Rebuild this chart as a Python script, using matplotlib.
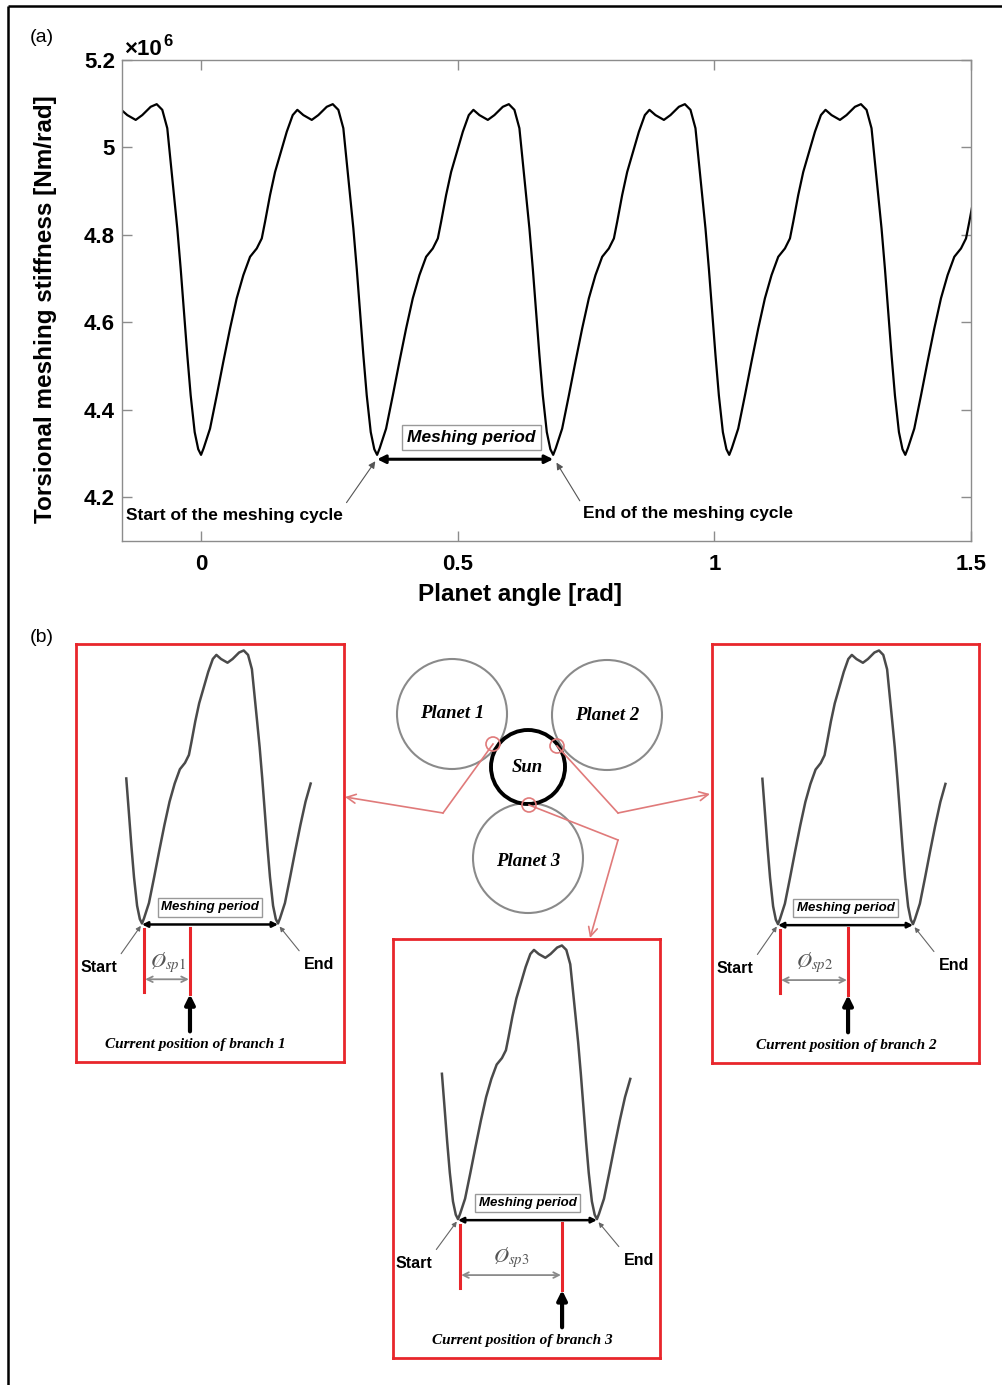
import numpy as np
import matplotlib
matplotlib.use('Agg')
import matplotlib.pyplot as plt
from matplotlib.patches import Circle

plt.rcParams['font.family'] = ['Liberation Sans', 'DejaVu Sans']
plt.rcParams['mathtext.fontset'] = 'stix'

"""
data read off the figure
"""

# one meshing cycle: offset from the stiffness minimum [rad] and stiffness [x1e6 Nm/rad]
cycle_offset = [0.0000, 0.0050, 0.0175, 0.0306, 0.0434, 0.0565, 0.0695, 0.0824, 0.0955, 0.1085,
                0.1183, 0.1247, 0.1344, 0.1442, 0.1539, 0.1670, 0.1786, 0.1876, 0.1993, 0.2157,
                0.2285, 0.2449, 0.2566, 0.2675, 0.2772, 0.2838, 0.2903, 0.2967, 0.3033, 0.3098,
                0.3162, 0.3228, 0.3306, 0.3375]
cycle_stiff = [4.297, 4.312, 4.357, 4.433, 4.510, 4.586, 4.655, 4.708, 4.750, 4.769,
               4.792, 4.830, 4.891, 4.944, 4.983, 5.036, 5.074, 5.086, 5.074, 5.063,
               5.074, 5.093, 5.099, 5.086, 5.044, 4.967, 4.891, 4.815, 4.723, 4.624,
               4.525, 4.433, 4.349, 4.310]

# planet angle at each stiffness minimum (start of a meshing cycle)
cycle_start = [-0.343, 0.0, 0.343, 0.686, 1.029, 1.372]

xticks = [0, 0.5, 1, 1.5]
xtick_labels = ['0', '0.5', '1', '1.5']
yticks = [4.2, 4.4, 4.6, 4.8, 5.0, 5.2]
ytick_labels = ['4.2', '4.4', '4.6', '4.8', '5', '5.2']

# current angle of each branch inside its meshing cycle [rad]
branch_names = ['1', '2', '3']
branch_phase = [0.121, 0.178, 0.257]
branch_text_x = [0.134, 0.173, 0.160]

planet_names = ['Planet 1', 'Planet 2', 'Planet 3']

angle = np.concatenate([s + np.array(cycle_offset) for s in cycle_start])
stiff = np.tile(cycle_stiff, len(cycle_start))

red = '#e8262b'
pink = '#e07a7a'

"""
figure
"""

W, H = 1002, 1385
fig = plt.figure(figsize=(W / 100, H / 100), dpi=100)
fig.patch.set_facecolor('white')


def frac(x0, y0, x1, y1):
    # pixel box (top-left origin) -> figure fraction rect
    return [x0 / W, 1 - y1 / H, (x1 - x0) / W, (y1 - y0) / H]


# ---------------- panel (a) ----------------
ax = fig.add_axes(frac(122, 60, 971, 541))
ax.plot(angle, stiff, color='black', lw=1.6)
ax.set_xlim(-0.154, 1.5)
ax.set_ylim(4.1, 5.2)
ax.set_xticks(xticks)
ax.set_xticklabels(xtick_labels, fontsize=16, fontweight='bold')
ax.set_yticks(yticks)
ax.set_yticklabels(ytick_labels, fontsize=16, fontweight='bold')
ax.tick_params(direction='in', top=True, right=True, length=7, width=1, color='#8c8c8c')
ax.tick_params(axis='x', pad=9)
ax.tick_params(axis='y', pad=5)
for s in ax.spines.values():
    s.set_color('#8c8c8c')
    s.set_linewidth(1)

ax.set_ylabel('Torsional meshing stiffness [Nm/rad]', fontsize=17.5, fontweight='bold', va='center')
ax.yaxis.set_label_coords(-0.0905, 0.482)
ax.set_xlabel('Planet angle [rad]', fontsize=17.5, fontweight='bold')
ax.xaxis.set_label_coords(0.469, -0.087)

ax.text(0.003, 1.0104, '\u00d710', transform=ax.transAxes, fontsize=16, fontweight='bold', va='baseline')
ax.text(0.049, 1.029, '6', transform=ax.transAxes, fontsize=12, fontweight='bold', va='baseline')

ax.annotate('', xy=(cycle_start[2], 4.287), xytext=(cycle_start[3], 4.287),
            arrowprops=dict(arrowstyle='<|-|>', color='black', lw=2.2, shrinkA=0, shrinkB=0, mutation_scale=12))
ax.text(0.526, 4.337, 'Meshing period', ha='center', va='center', fontsize=12.5,
        fontweight='bold', fontstyle='italic',
        bbox=dict(boxstyle='square,pad=0.3', fc='white', ec='#999999', lw=1))
ax.annotate('Start of the meshing cycle', xy=(cycle_start[2] - 0.002, 4.285), xytext=(-0.146, 4.159),
            ha='left', va='center', fontsize=12.5, fontweight='bold',
            arrowprops=dict(arrowstyle='-|>', color='#555555', lw=0.8, mutation_scale=10,
                            relpos=(1.0, 1.0), shrinkA=2, shrinkB=1))
ax.annotate('End of the meshing cycle', xy=(cycle_start[3] + 0.005, 4.282), xytext=(0.744, 4.163),
            ha='left', va='center', fontsize=12.5, fontweight='bold',
            arrowprops=dict(arrowstyle='-|>', color='#555555', lw=0.8, mutation_scale=10,
                            relpos=(0.0, 1.0), shrinkA=2, shrinkB=1))

fig.text(42 / W, 1 - 38 / H, '(a)', ha='center', va='center', fontsize=14)
fig.text(42 / W, 1 - 637 / H, '(b)', ha='center', va='center', fontsize=14)

# ---------------- panel (b): one box per branch ----------------
box_px = [(76, 644, 344, 1062), (712, 644, 979, 1063), (393, 939, 660, 1358)]
box_xlim = [(-0.1665, 0.5095), (-0.1677, 0.5107), (-0.1605, 0.4988)]
mini = (angle >= -0.04) & (angle <= 0.436)

for i in range(3):
    bx = fig.add_axes(frac(*box_px[i]))
    bx.set_xlim(*box_xlim[i])
    bx.set_ylim(3.89, 5.118)
    bx.set_xticks([])
    bx.set_yticks([])
    for s in bx.spines.values():
        s.set_color(red)
        s.set_linewidth(2)

    bx.plot(angle[mini], stiff[mini], color='#4a4a4a', lw=1.8)

    p0 = cycle_start[1]
    p1 = cycle_start[2]
    ph = branch_phase[i]

    bx.annotate('', xy=(p0, 4.294), xytext=(p1, 4.294),
                arrowprops=dict(arrowstyle='<|-|>', color='black', lw=1.8, shrinkA=0, shrinkB=0, mutation_scale=8))
    bx.text((p0 + p1) / 2, 4.344, 'Meshing period', ha='center', va='center', fontsize=9.5,
            fontweight='bold', fontstyle='italic',
            bbox=dict(boxstyle='square,pad=0.25', fc='white', ec='#999999', lw=1))

    # red markers: cycle start and current branch position
    bx.plot([p0 + 0.005, p0 + 0.005], [4.095, 4.28], color=red, lw=2.2)
    bx.plot([ph, ph], [4.089, 4.285], color=red, lw=2.2)
    bx.annotate('', xy=(p0 + 0.008, 4.133), xytext=(ph - 0.003, 4.133),
                arrowprops=dict(arrowstyle='<->', color='#8a8a8a', lw=1.3, shrinkA=0, shrinkB=0, mutation_scale=10))
    bx.text((p0 + ph) / 2 + 0.004, 4.183, r'$\O_{sp%s}$' % branch_names[i], ha='center', va='center',
            fontsize=15, color='#555555')

    bx.annotate('', xy=(ph, 4.089), xytext=(ph, 3.98),
                arrowprops=dict(arrowstyle='-|>', color='black', lw=3, shrinkA=0, shrinkB=0, mutation_scale=14))
    bx.text(branch_text_x[i], 3.94, 'Current position of branch ' + branch_names[i], ha='center', va='center',
            fontsize=11, fontweight='bold', fontstyle='italic', family=['Liberation Serif', 'DejaVu Serif'])

    bx.annotate('Start', xy=(p0 - 0.003, 4.29), xytext=(-0.11, 4.168), ha='center', va='center',
                fontsize=11.5, fontweight='bold',
                arrowprops=dict(arrowstyle='-|>', color='#666666', lw=0.8, mutation_scale=7,
                                relpos=(1.0, 1.0), shrinkA=3, shrinkB=0))
    bx.annotate('End', xy=(p1 + 0.004, 4.288), xytext=(0.447, 4.177), ha='center', va='center',
                fontsize=11.5, fontweight='bold',
                arrowprops=dict(arrowstyle='-|>', color='#666666', lw=0.8, mutation_scale=7,
                                relpos=(0.0, 1.0), shrinkA=3, shrinkB=0))

# ---------------- gear sketch + frame (pixel coordinates) ----------------
ov = fig.add_axes([0, 0, 1, 1])
ov.set_xlim(0, W)
ov.set_ylim(H, 0)
ov.axis('off')
ov.patch.set_alpha(0)

ov.plot([8, 8], [6, H], color='black', lw=1.8, solid_capstyle='butt')
ov.plot([8, W], [6, 6], color='black', lw=1.8, solid_capstyle='butt')

planet_xy = [(452, 714), (607, 715), (528, 858)]
for (cx, cy), name in zip(planet_xy, planet_names):
    ov.add_patch(Circle((cx, cy), 55, fill=False, ec='#8a8a8a', lw=1.5))
    ov.text(cx, cy + (4 if name == 'Planet 3' else 0), name, ha='center', va='center', fontsize=13.5,
            fontweight='bold', fontstyle='italic', family=['Liberation Serif', 'DejaVu Serif'])
ov.add_patch(Circle((528, 767), 37, fill=False, ec='black', lw=2.8))
ov.text(527, 767, 'Sun', ha='center', va='center', fontsize=13.5,
        fontweight='bold', fontstyle='italic', family=['Liberation Serif', 'DejaVu Serif'])

contacts = [(493, 744), (557, 746), (529, 805)]
routes = [[(443, 813), (345, 797)], [(618, 813), (710, 794)], [(618, 840), (590, 938)]]
for (cx, cy), route in zip(contacts, routes):
    ov.add_patch(Circle((cx, cy), 7, fill=False, ec=pink, lw=1.2))
    pts = [(cx, cy)] + route
    ov.plot([p[0] for p in pts[:-1]], [p[1] for p in pts[:-1]], color=pink, lw=1.2)
    ov.annotate('', xy=pts[-1], xytext=pts[-2],
                arrowprops=dict(arrowstyle='->', color=pink, lw=1.2, shrinkA=0, shrinkB=0, mutation_scale=16))

fig.savefig('out.png', dpi=100, facecolor='white')
